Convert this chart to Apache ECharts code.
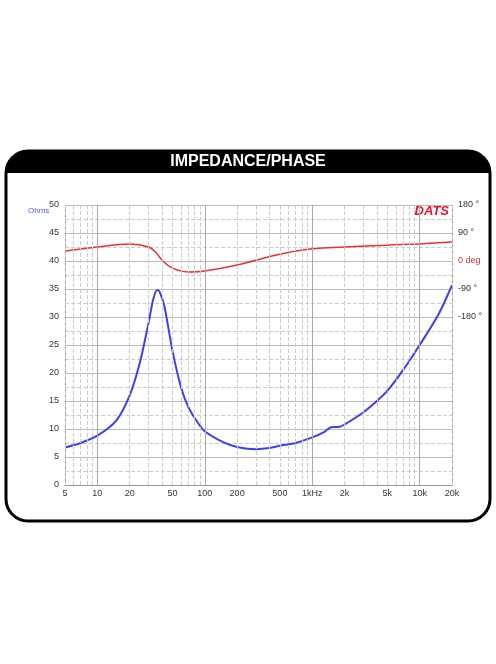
<!DOCTYPE html>
<html><head><meta charset="utf-8">
<script src="https://cdn.jsdelivr.net/npm/echarts@6/dist/echarts.min.js"></script>
<style>body{margin:0;background:#fff}#c{width:496px;height:664px}</style>
</head><body><div id="c"></div>
<script>
// impedance (ohm) and phase (deg)
var freqZ = [5, 7, 10, 15, 20, 25, 30, 33, 36, 38, 42, 50, 60, 70, 85, 100, 150, 200, 300, 400, 500, 700, 1000, 1300, 1500, 1800, 2000, 3000, 4000, 5000, 7000, 10000, 15000, 20000];
var ohms = [6.7, 7.5, 8.8, 11.5, 16, 22, 29, 33, 34.8, 34.5, 32, 24, 17.5, 14, 11.3, 9.6, 7.6, 6.8, 6.4, 6.6, 7, 7.5, 8.5, 9.5, 10.3, 10.4, 10.8, 13, 15, 16.8, 20.5, 25, 30.5, 35.7];
var freqP = [5, 10, 15, 20, 30, 35, 40, 50, 70, 100, 200, 500, 1000, 2000, 5000, 10000, 20000];
var phase = [32, 45, 52, 55, 45, 28, 3, -23, -35, -32, -13, 22, 39, 45, 51, 55, 61];
var gridFreqs = [5,6,7,8,9,10,20,30,40,50,60,70,80,90,100,200,300,400,500,600,700,800,900,1000,2000,3000,4000,5000,6000,7000,8000,9000,10000,20000];
var freqLabels = {5:'5',10:'10',20:'20',50:'50',100:'100',200:'200',500:'500',1000:'1kHz',2000:'2k',5000:'5k',10000:'10k',20000:'20k'};

var chart = echarts.init(document.getElementById('c'));
var vlines = gridFreqs.map(function (f) {
    var major = (f === 10 || f === 100 || f === 1000 || f === 10000);
    return {
        xAxis: f,
        lineStyle: {color: major ? '#aaa' : '#ccc', type: major ? 'solid' : 'dashed', width: 1},
        label: {show: !!freqLabels[f], formatter: freqLabels[f] || '', position: 'start', color: '#333', fontSize: 9, distance: 4}
    };
});
chart.setOption({
    animation: false,
    graphic: [
        {type: 'rect', shape: {x: 6, y: 151, width: 484, height: 370, r: 22}, style: {fill: '#fff', stroke: '#000', lineWidth: 3}},
        {type: 'rect', shape: {x: 6, y: 151, width: 484, height: 22, r: [22, 22, 0, 0]}, style: {fill: '#000'}},
        {type: 'text', x: 248, y: 162, style: {text: 'IMPEDANCE/PHASE', fill: '#fff', font: 'bold 16px "Liberation Sans", Arial', align: 'center', verticalAlign: 'middle'}},
        {type: 'text', x: 28, y: 211, style: {text: 'Ohms', fill: '#5555ee', font: '8px "Liberation Sans"', verticalAlign: 'middle'}},
        {type: 'text', x: 449, y: 211, style: {text: 'DATS', fill: '#e8102a', font: 'italic bold 13px "Liberation Sans"', align: 'right', verticalAlign: 'middle'}}
    ],
    grid: {left: 65, right: 44, top: 205, bottom: 179},
    xAxis: {type: 'log', logBase: 10, min: 5, max: 20000,
        axisLabel: {show: false}, axisTick: {show: false}, splitLine: {show: false},
        axisLine: {lineStyle: {color: '#999'}}},
    yAxis: [
        {type: 'value', min: 0, max: 50, interval: 5,
            axisLabel: {color: '#333', fontSize: 9, margin: 6},
            axisLine: {show: true, lineStyle: {color: '#999'}}, axisTick: {show: false},
            splitLine: {lineStyle: {color: '#bbb'}},
            minorTick: {show: false, splitNumber: 2},
            minorSplitLine: {show: true, lineStyle: {color: '#ccc', type: 'dashed'}}},
        {type: 'value', min: -720, max: 180, interval: 90,
            axisLabel: {fontSize: 9, margin: 6, color: '#333',
                formatter: function (v) {
                    if (v < -180) return '';
                    if (v === 0) return '{r|0 deg}';
                    return v + ' °';
                },
                rich: {r: {color: '#e03030', fontSize: 9}}},
            axisLine: {show: true, lineStyle: {color: '#999'}}, axisTick: {show: false}, splitLine: {show: false}}
    ],
    series: [
        {type: 'line', yAxisIndex: 0, smooth: 0.3, symbol: 'none',
            lineStyle: {color: '#4040e8', width: 2},
            data: freqZ.map(function (f, i) { return [f, ohms[i]]; }),
            markLine: {silent: true, symbol: 'none', data: vlines}},
        {type: 'line', yAxisIndex: 1, smooth: 0.4, symbol: 'none',
            lineStyle: {color: '#e83030', width: 1.5},
            data: freqP.map(function (f, i) { return [f, phase[i]]; })}
    ]
});
</script></body></html>
